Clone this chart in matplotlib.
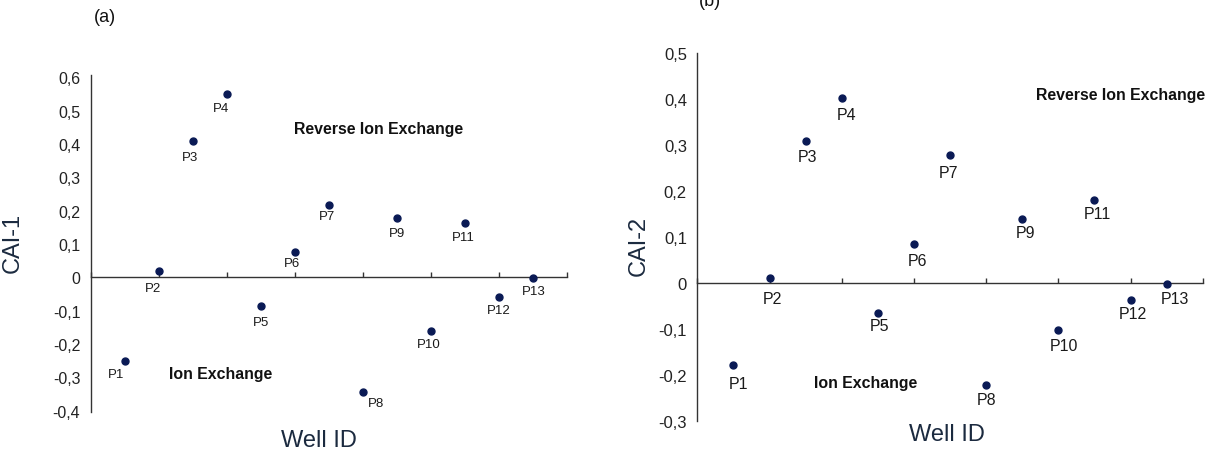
#!/usr/bin/env python3
import matplotlib
matplotlib.use('Agg')
import matplotlib.pyplot as plt  # noqa
from matplotlib.ticker import FuncFormatter, MultipleLocator  # noqa

W, H = 1205, 452

wells = ['P1', 'P2', 'P3', 'P4', 'P5', 'P6', 'P7',
         'P8', 'P9', 'P10', 'P11', 'P12', 'P13']
well_pos = list(range(1, len(wells) + 1))

cai1 = [-0.252, 0.018, 0.408, 0.550, -0.085, 0.075, 0.218,
        -0.345, 0.178, -0.160, 0.164, -0.060, -0.003]
cai2 = [-0.178, 0.010, 0.309, 0.402, -0.064, 0.085, 0.278,
        -0.221, 0.138, -0.103, 0.181, -0.037, -0.003]

# label offsets from each dot, in pixels (dx right, dy down)
offs1 = [(-9, 13), (-6, 17), (-3, 16), (-6, 14), (0, 16), (-3, 11), (-2, 11),
         (13, 11), (0, 15), (-2, 13), (-1, 14), (0, 13), (1, 13)]
offs2 = [(5, 18), (3, 20), (2, 16), (5, 17), (2, 13), (4, 17), (-2, 18),
         (0, 15), (3, 13), (6, 15), (3, 14), (2, 13), (8, 14)]

SANS = 'Liberation Sans'
DOT = '#0a1a55'
INK = '#1b2a3f'
NOTE = dict(fontsize=11.4, fontweight='bold', color='#111111')

plt.rcParams.update({
    'font.family': [SANS, 'DejaVu Sans'],
})


def comma(v, _pos):
    if abs(v) < 1e-9:
        return '0'
    return ('%.1f' % v).replace('.', ',')


def px(x, y):
    return x / W, 1 - y / H


def panel(ax, values, offs, ylim, yfs, lfs):
    ax.set_xlim(0, 14)
    ax.set_ylim(*ylim)
    for s in ('top', 'right'):
        ax.spines[s].set_visible(False)
    ax.spines['bottom'].set_position(('data', 0))
    for s in ('left', 'bottom'):
        ax.spines[s].set_linewidth(1.0)
        ax.spines[s].set_color('#333333')
    ax.xaxis.set_major_locator(MultipleLocator(2))
    ax.xaxis.set_major_formatter(FuncFormatter(lambda v, p: ''))
    ax.tick_params(axis='x', direction='in', length=3.5, width=1.0,
                   color='#333333')
    ax.yaxis.set_major_locator(MultipleLocator(0.1))
    ax.yaxis.set_major_formatter(FuncFormatter(comma))
    ax.tick_params(axis='y', length=0, pad=7.5, labelsize=yfs,
                   labelcolor='#222222')
    ax.plot(well_pos, values, 'o', color=DOT, markersize=5, zorder=3,
            clip_on=False)
    for name, x, y, (dx, dy) in zip(wells, well_pos, values, offs):
        ax.annotate(name, (x, y), xytext=(dx, -dy),
                    textcoords='offset pixels', ha='center', va='center',
                    fontsize=lfs, color='#1a1a1a')


fig = plt.figure(figsize=(W / 100, H / 100), dpi=100)

ax1 = fig.add_axes([90.7 / W, 1 - 413.3 / H, 476 / W, 337.3 / H])
panel(ax1, cai1, offs1, (-0.405, 0.607), 11.5, 9.5)
ax1.text(8.47, 0.445, 'Reverse Ion Exchange', ha='center', va='center',
         **NOTE)
ax1.text(3.83, -0.29, 'Ion Exchange', ha='center', va='center', **NOTE)

ax2 = fig.add_axes([697.3 / W, 1 - 422.3 / H, 505.4 / W, 368.8 / H])
panel(ax2, cai2, offs2, (-0.3, 0.5), 12, 11.5)
ax2.text(9.37, 0.408, 'Reverse Ion Exchange', ha='left', va='center',
         **NOTE)
ax2.text(4.67, -0.215, 'Ion Exchange', ha='center', va='center', **NOTE)

# axis titles and panel letters
fig.text(*px(319, 441), 'Well ID', ha='center', va='center',
         fontsize=17, color=INK)
fig.text(*px(947, 435), 'Well ID', ha='center', va='center',
         fontsize=17, color=INK)
fig.text(*px(13, 243), 'CAI-1', ha='center', va='center', rotation=90,
         fontsize=17, color=INK)
fig.text(*px(639, 246), 'CAI-2', ha='center', va='center', rotation=90,
         fontsize=17, color=INK)
fig.text(*px(105, 17), '(a)', ha='center', va='center', fontsize=13,
         color='#111111')
fig.text(*px(710, 2), '(b)', ha='center', va='center', fontsize=13,
         color='#111111')

fig.savefig('out.png', dpi=100)
